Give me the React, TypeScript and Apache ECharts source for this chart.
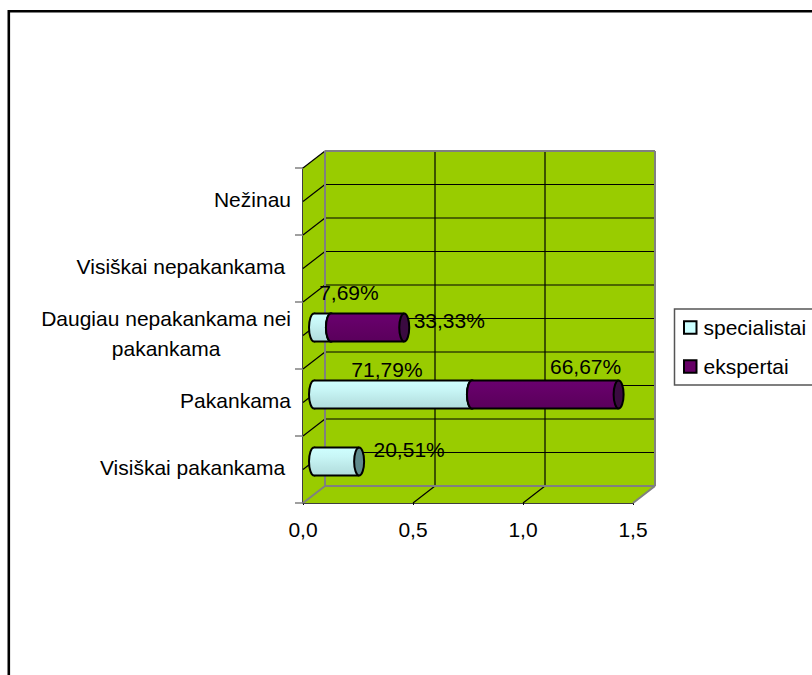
import React, { useEffect, useRef } from "react";
import * as echarts from "echarts";

const categories = ["Visiškai pakankama ", "Pakankama", "Daugiau nepakankama nei\npakankama", "Visiškai nepakankama ", "Nežinau"];
const specialistai = [0.2051, 0.7179, 0.0769, 0, 0];
const ekspertai = [0, 0.6667, 0.3333, 0, 0];
const xTicks = [0, 0.5, 1, 1.5];

// label offsets relative to the segment's end and the bar centre
const specLabelOffsets: number[][] = [[50, -12], [-85, -25], [18, -35], [0, 0], [0, 0]];
const ekspLabelOffsets: number[][] = [[0, 0], [-33, -28], [45, -7], [0, 0], [0, 0]];

const FONT = '"Liberation Sans", Arial, sans-serif';
const FS = 21;
const DX = 22;
const DY = -17;
const GREEN = "#99CC00";
const GREY = "#808080";

const pct = (v: number) => (v * 100).toFixed(2).replace(".", ",") + "%";

function line(x1: number, y1: number, x2: number, y2: number, stroke: string, lineWidth = 1) {
  return { type: "line", shape: { x1, y1, x2, y2 }, style: { stroke, lineWidth, fill: null } };
}

function renderFrame(_p: any, api: any) {
  const [x0] = api.coord([0, 0]);
  const [x1] = api.coord([1.5, 0]);
  const band = api.size([0, 1])[1];
  const yBottom = api.coord([0, 0])[1] + band / 2;
  const yTop = api.coord([0, categories.length - 1])[1] - band / 2;
  const poly = (points: number[][]) => ({ type: "polygon", shape: { points }, style: { fill: GREEN, stroke: "none" } });
  const children: any[] = [
    poly([[x0, yTop], [x0 + DX, yTop + DY], [x0 + DX, yBottom + DY], [x0, yBottom]]),
    poly([[x0 + DX, yTop + DY], [x1 + DX, yTop + DY], [x1 + DX, yBottom + DY], [x0 + DX, yBottom + DY]]),
    poly([[x0, yBottom], [x0 + DX, yBottom + DY], [x1 + DX, yBottom + DY], [x1, yBottom]]),
  ];
  for (let k = 1; k < categories.length * 2; k++) {
    const y = yBottom - (k * band) / 2;
    children.push(line(x0 + DX, y + DY, x1 + DX, y + DY, "#000", 1.2));
    children.push(line(x0, y, x0 + DX, y + DY, "#000", 1.2));
  }
  xTicks.slice(1, -1).forEach((t) => {
    const x = api.coord([t, 0])[0];
    children.push(line(x + DX, yTop + DY, x + DX, yBottom + DY, "#000", 1.2));
    children.push(line(x, yBottom, x + DX, yBottom + DY, "#000", 1.2));
  });
  children.push(line(x0, yTop, x0 + DX, yTop + DY, "#000", 1.2));
  children.push(line(x0 + DX, yTop + DY, x1 + DX, yTop + DY, GREY, 2));
  children.push(line(x1 + DX, yTop + DY, x1 + DX, yBottom + DY, GREY, 2));
  children.push(line(x0 + DX, yTop + DY, x0 + DX, yBottom + DY, GREY, 2));
  children.push(line(x0 + DX, yBottom + DY, x1 + DX, yBottom + DY, GREY, 2));
  children.push(line(x0, yBottom, x0 + DX, yBottom + DY, GREY, 2));
  children.push(line(x1, yBottom, x1 + DX, yBottom + DY, GREY, 2));
  return { type: "group", children };
}

function cylinder(stops: string[], cap: string, offsets: number[][]) {
  return (_p: any, api: any) => {
    const start = api.value(0);
    const end = api.value(1);
    const cat = api.value(2);
    const a = api.coord([start, cat]);
    const b = api.coord([end, cat]);
    const cx0 = a[0] + DX / 2;
    const cx1 = b[0] + DX / 2;
    const cy = a[1] + DY / 2 + 0.5;
    const rx = 5;
    const ry = 14;
    const fill = new echarts.graphic.LinearGradient(
      0, 0, 0, 1,
      stops.map((color, i) => ({ offset: i / (stops.length - 1), color }))
    );
    const off = offsets[cat];
    return {
      type: "group",
      children: [
        { type: "ellipse", shape: { cx: cx0, cy, rx, ry }, style: { fill, stroke: "#000", lineWidth: 2 } },
        { type: "rect", shape: { x: cx0, y: cy - ry, width: cx1 - cx0, height: ry * 2 }, style: { fill, stroke: "none" } },
        line(cx0, cy - ry, cx1, cy - ry, "#000", 2),
        line(cx0, cy + ry, cx1, cy + ry, "#000", 2),
        { type: "ellipse", shape: { cx: cx1, cy, rx, ry }, style: { fill: cap, stroke: "#000", lineWidth: 2 } },
        {
          type: "text",
          z2: 100,
          x: cx1 + off[0],
          y: cy + off[1],
          style: { text: pct(end - start), font: `${FS}px ${FONT}`, fill: "#000", align: "center", verticalAlign: "middle" },
        },
      ],
    };
  };
}

function segments(values: number[], base: number[]) {
  return values
    .map((v, i) => [base[i], base[i] + v, i])
    .filter((d) => d[1] > d[0]);
}

export default function App() {
  const ref = useRef<HTMLDivElement>(null);
  useEffect(() => {
    document.body.style.margin = "0";
    const chart = echarts.init(ref.current!, undefined, { renderer: "svg" });
    chart.setOption({
      animation: false,
      backgroundColor: "#fff",
      textStyle: { fontFamily: FONT },
      grid: { left: 303, top: 168, width: 330, height: 335 },
      xAxis: {
        type: "value",
        min: 0,
        max: 1.5,
        interval: 0.5,
        splitLine: { show: false },
        axisLine: { show: true, lineStyle: { color: "#000", width: 1.5 } },
        axisTick: { show: true, length: 2, lineStyle: { color: "#000" } },
        axisLabel: {
          color: "#000",
          fontSize: FS,
          margin: 16,
          fontFamily: FONT,
          formatter: (v: number) => v.toFixed(1).replace(".", ","),
        },
      },
      yAxis: {
        type: "category",
        data: categories,
        boundaryGap: true,
        axisLine: { show: true, lineStyle: { color: "#000", width: 1.5 } },
        axisTick: { show: true, length: 8, alignWithLabel: false, lineStyle: { color: GREY, width: 1.5 } },
        axisLabel: {
          color: "#000",
          fontSize: FS,
          margin: 12,
          fontFamily: FONT,
          interval: 0,
          padding: [0, 0, 5, 0],
          formatter: (v: string) => {
            const parts = v.split("\n");
            return parts.length > 1 ? parts.map((p) => `{c|${p}}`).join("\n") : v;
          },
          rich: { c: { align: "center", fontSize: FS, fontFamily: FONT, color: "#000", lineHeight: 30 } },
        },
      },
      legend: {
        data: ["specialistai", "ekspertai"],
        orient: "vertical",
        left: 683,
        top: 317,
        padding: 0,
        itemWidth: 12.5,
        itemHeight: 12.5,
        itemGap: 18,
        icon: "rect",
        selectedMode: false,
        textStyle: { fontSize: FS, color: "#000", fontFamily: FONT, padding: [0, 0, 0, 2] },
      },
      graphic: [
        {
          type: "polyline",
          shape: { points: [[8.8, 675], [8.8, 11.3], [812, 11.3]] },
          style: { stroke: "#000", lineWidth: 2.6, fill: null },
          z: 0,
        },
        {
          type: "polyline",
          shape: { points: [[813, 309], [674.5, 309], [674.5, 385], [813, 385]] },
          style: { stroke: "#555", lineWidth: 1.5, fill: null },
          z: 0,
        },
      ],
      series: [
        {
          type: "custom",
          name: "frame",
          z: 1,
          clip: false,
          silent: true,
          data: [[0, 0]],
          encode: { x: 0, y: 1 },
          renderItem: renderFrame,
        },
        {
          type: "custom",
          name: "specialistai",
          z: 2,
          clip: false,
          itemStyle: { color: "#CCFFFF", borderColor: "#000", borderWidth: 1.5 },
          data: segments(specialistai, specialistai.map(() => 0)),
          encode: { x: [0, 1], y: 2 },
          renderItem: cylinder(["#CFFFFF", "#C8F6F6", "#BCE8E8", "#B0DCDC"], "#5F8A8C", specLabelOffsets),
        },
        {
          type: "custom",
          name: "ekspertai",
          z: 3,
          clip: false,
          itemStyle: { color: "#660066", borderColor: "#000", borderWidth: 1.5 },
          data: segments(ekspertai, specialistai),
          encode: { x: [0, 1], y: 2 },
          renderItem: cylinder(["#6A0070", "#620064", "#5A005C"], "#3A0A40", ekspLabelOffsets),
        },
      ],
    });
    return () => chart.dispose();
  }, []);
  return <div ref={ref} style={{ width: 812, height: 675 }} />;
}
